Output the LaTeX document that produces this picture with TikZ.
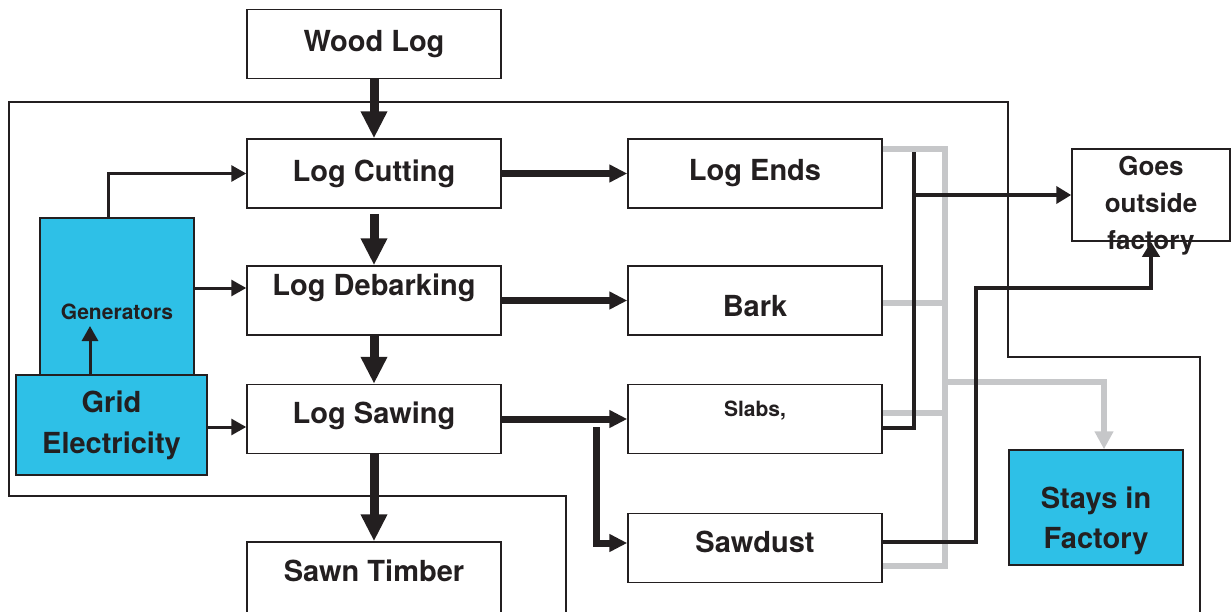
\documentclass[tikz,border=0pt]{standalone}
\usepackage{fontspec}
\setmainfont{TeX Gyre Heros}
\usepackage{tikz}
\usetikzlibrary{arrows.meta,positioning,calc}
\definecolor{Ink}{HTML}{231F20}
\definecolor{Sky}{HTML}{2EC0E7}
\definecolor{Ash}{HTML}{C6C7C9}
\tikzset{
  stepbox/.style={draw=Ink,line width=0.75pt,fill=white,minimum width=127pt,minimum height=34.5pt,inner sep=0pt,align=center,text=Ink},
  skybox/.style={stepbox,fill=Sky},
  bigarrow/.style={-{Triangle[length=13.5pt,width=12.5pt]},line width=4.5pt,draw=Ink},
  sidearrow/.style={-{Triangle[length=9pt,width=8.5pt]},line width=3.5pt,draw=Ink},
  feed/.style={-{Triangle[length=7.5pt,width=8pt]},line width=1.5pt,draw=Ink},
  outline/.style={line width=0.75pt,draw=Ink},
  ashline/.style={line width=3pt,draw=Ash},
  asharrow/.style={ashline,-{Triangle[length=9pt,width=9pt]}},
  inkline/.style={line width=2.25pt,draw=Ink},
  inkarrow/.style={inkline,-{Triangle[length=7.5pt,width=8.5pt]}}
}

\begin{document}
\begin{tikzpicture}[x=0.5pt,y=-0.5pt,font=\fontsize{14.5}{20}\selectfont\bfseries]
  \useasboundingbox (0,0) rectangle (1232,611);

  % factory boundary
  \draw[outline] (566,614) -- (566,496) -- (9,496) -- (9,102) -- (1008,102)
    -- (1008,357) -- (1200,357) -- (1200,614);

  % process chain
  \node[stepbox] (wood) at (374,44) {Wood Log};
  \node[stepbox] (cut) at (374,173.5) {Log Cutting};
  \node[stepbox,text depth=16pt] (debark) at (374,300.5) {Log Debarking};
  \node[stepbox,text depth=6pt] (saw) at (374,419) {Log Sawing};
  \node[stepbox,minimum height=36pt,text depth=7.5pt] (sawn) at (374,578) {Sawn Timber};

  % by-products
  \node[stepbox] (ends) at (755,173.5) {Log Ends};
  \node[stepbox,text height=16.5pt] (bark) at (755,300.5) {Bark};
  \node[stepbox,font=\fontsize{10.5}{12}\selectfont\bfseries,text depth=10pt] (slabs) at (755,419) {Slabs,};
  \node[stepbox,text depth=6.5pt] (sawdust) at (755,548) {Sawdust};

  % the label runs over the lower edge of this box
  \node[stepbox,minimum width=79pt,minimum height=46pt,font=\fontsize{13}{18.5}\selectfont\bfseries] (goes) at (1151,195)
    {\raisebox{-7.8pt}[0pt][0pt]{\begin{tabular}{@{}c@{}}Goes\\outside\\factory\end{tabular}}};
  \node[skybox,minimum width=87pt,minimum height=57.5pt,text height=44.5pt] (stays) at (1096,507.5) {Stays in\\Factory};

  % power supply
  \node[skybox,minimum width=77pt,minimum height=94pt,font=\fontsize{10.5}{12}\selectfont\bfseries] (gen) at (117,312) {Generators};
  \node[skybox,minimum width=95.5pt,minimum height=50pt,font=\fontsize{14.5}{20.5}\selectfont\bfseries] (grid) at (111.5,425) {Grid\\Electricity};

  \coordinate (genup) at (108,218);
  \coordinate (genin) at (90,326);
  \coordinate (dbin) at ([yshift=6.25pt]debark.west);
  \coordinate (swin) at ([yshift=-4pt]saw.west);
  \draw[feed] (genup) |- (cut.west);
  \draw[feed] (gen.east |- dbin) -- (dbin);
  \draw[feed] (grid.east |- swin) -- (swin);
  \draw[feed] (grid.north -| genin) -- (genin);

  \draw[bigarrow] (wood) -- (cut);
  \draw[bigarrow] ([yshift=-2.5pt]cut.south) -- (debark.north);
  \draw[bigarrow] (debark) -- (saw);
  \draw[bigarrow] (saw) -- (sawn);

  \draw[sidearrow] (cut) -- (ends);
  \draw[sidearrow] (debark) -- (bark);
  \draw[sidearrow] (saw) -- (slabs);
  \coordinate (split) at (596,427);
  \draw[sidearrow] (split) |- ([yshift=2.5pt]sawdust.west);

  % what stays inside
  \coordinate (gtop) at (945,149);
  \coordinate (gbot) at (945,566);
  \coordinate (gsplit) at (945,382);
  \draw[ashline] (ends.east |- gtop) -- (gtop) -- (gbot) -- (sawdust.east |- gbot);
  \draw[ashline] ([yshift=-1.25pt]bark.east) -- ([yshift=-1.25pt]bark.east -| gtop);
  \draw[ashline] ([yshift=3pt]slabs.east) -- ([yshift=3pt]slabs.east -| gtop);
  \draw[asharrow] (gsplit) -| ([xshift=4pt]stays.north);

  % what goes out
  \coordinate (btop) at (914,152);
  \coordinate (bturn) at (976,288);
  \draw[inkline] ([yshift=-4.5pt]slabs.east) -| (btop);
  \draw[inkarrow] (btop |- goes.west) -- (goes.west);
  \draw[inkarrow] ([yshift=3pt]sawdust.east) -| (bturn) -| (goes.south);
\end{tikzpicture}
\end{document}
